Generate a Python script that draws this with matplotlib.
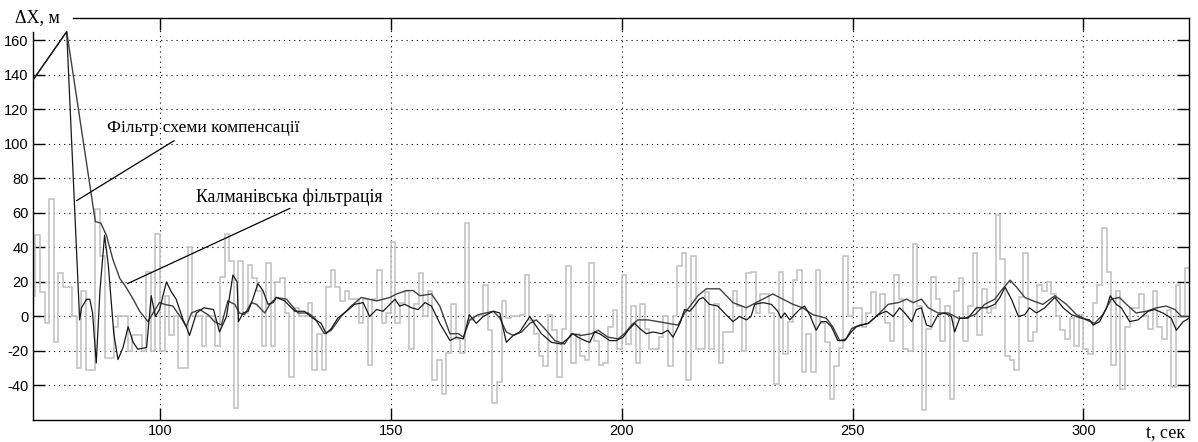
import matplotlib
matplotlib.use('Agg')
import matplotlib.pyplot as plt
import numpy as np

plt.rcParams['axes.unicode_minus'] = False

# вимірювання (сірі сходинки), крок 1 с, початок t = 72 с
t_start = 72
meas = [
    12, 47, 14, -4, 68, -15, 25, 17, 17, 0,          # 72-81
    -30, 15, -31, -31, 62, 35, -24, -24, -6, 0,      # 82-91
    0, -20, -11, -11, -20, 26, -20, 48, -20, 12,     # 92-101
    -11, 0, -30, -30, 40, 0, 0, -17, 0, 0,           # 102-111
    -17, 23, 48, 32, -53, 32, 2, 30, 22, 15,         # 112-121
    -17, 31, -17, 20, 22, 2, -35, 5, 0, 0,           # 122-131
    8, -31, -10, -31, 17, 27, 17, 9, 15, 10,         # 132-141
    10, -4, 10, -28, 10, 27, -4, 2, 43, -4,          # 142-151
    8, 15, -19, 7, 25, 0, 15, -37, -25, -45,         # 152-161
    -21, 7, -13, -21, 54, -2, 0, 1, 18, -8,          # 162-171
    -50, -38, 9, -1, 0, 0, 1, 24, -2, -10,           # 172-181
    -23, -29, 1, -8, -35, -7, 29, -27, -10, -23,     # 182-191
    -25, 31, -14, -28, -27, -6, 4, -19, 24, -16,     # 192-201
    6, -27, 7, -7, -19, -19, -12, 0, -29, 0,         # 202-211
    29, 37, -37, 35, -19, -19, 14, -19, 7, -27,      # 212-221
    -9, -9, 15, 6, -20, 25, 26, 2, 13, 13,           # 222-231
    2, -39, 26, -22, -3, 21, 27, -32, -10, -32,      # 232-241
    27, -4, -15, -48, -29, -18, 35, 0, 5, 5,         # 242-251
    -6, 2, 14, 1, 13, -4, -14, 24, 10, -19,          # 252-261
    -20, 42, 6, -54, -7, 23, 10, -14, 6, -48,        # 262-271
    15, 22, -14, 6, 37, -11, 16, 2, 5, 59,           # 272-281
    33, -23, -25, -31, 11, 37, -14, -9, 18, 15,      # 282-291
    20, 13, 0, -8, -13, -1, -17, 1, -19, -22,        # 292-301
    8, 18, 51, 26, -28, 15, -42, -6, 5, 5,           # 302-311
    13, 0, -7, 15, -6, -13, 4, -41, 18, 0,           # 312-321
    28,                                              # 322
]

# фільтр схеми компенсації
t_comp = [72.5, 79.8, 82.6, 83.0, 84.1, 84.8, 85.4, 86.2, 87.0, 88.0, 88.8, 90.0,
          90.9, 92.0, 93.1, 94.2, 95.2, 97.1, 98.1, 99.0, 99.9, 101.4, 102.5, 103.5,
          105.0, 105.7, 106.4, 107.9, 109.5, 111.6, 112.9, 114.4, 115.8, 116.7, 117.0,
          118.0, 119.1, 120.1, 121.2, 122.3, 123.4, 124.5, 125.2, 127.0, 129.2, 131.3,
          133.1, 134.9, 136.0, 137.1, 138.5, 140.4, 142.1, 144.0,
          145.4, 146.9, 148.3, 149.8, 150.9, 151.9, 153.0, 154.5, 155.9, 157.4, 158.8,
          160.6, 162.8, 164.2, 165.7, 167.0, 168.5, 170.0, 172.2, 173.6, 175.0, 176.5,
          177.9, 180.1,
          180.8, 182.6, 184.8, 186.9, 188.7, 189.4, 190.5, 192.0, 193.1, 194.1, 195.2,
          197.4, 198.8, 200.3, 201.4, 202.8, 203.9, 205.3, 206.8, 208.6, 210.0, 211.1,
          212.6, 213.6, 214.7, 215.4,
          216.8, 217.6, 219.0, 220.8, 222.6, 224.1, 225.5, 227.0, 228.0, 228.8, 230.6,
          232.4, 233.8, 234.5, 235.3, 236.4, 237.4, 238.5, 239.6, 240.7, 242.1, 243.2,
          244.3, 245.4, 246.8, 248.3, 249.7, 250.8,
          253.4, 255.5, 257.3, 258.8, 260.2, 261.3, 262.8, 263.8, 264.9, 266.0, 267.1,
          268.5, 269.9, 271.4, 272.1, 273.2, 275.0, 276.8, 279.0, 280.8, 281.9, 283.0,
          284.4, 285.9, 287.3,
          288.3, 289.8, 291.6, 293.8, 295.6, 297.4, 299.5, 301.3, 302.1, 303.5, 305.0,
          305.8, 307.1, 308.2, 310.0, 311.8, 314.0, 315.4, 317.2, 319.0, 320.1, 321.6,
          322.9]
x_comp = [137, 165, -2, 5, 10, 10, 2, -27, 15, 47, 30, -10,
          -25, -18, -6, -15, -19, -18, 12, 0, 4, 20, 14, 10,
          -2, -6, -11, 2, 5, 4, -9, 0, 24, 20, -3,
          2, 3, 10, 19, 15, 7, 8, 11, 9, 3, 3,
          -1, -4, -10, -7, -1, 3, 7, 8,
          0, 4, 3, 7, 10, 6, 7, 5, 4, 8, 6,
          -4, -14, -12, -13, 1, -4, 0, 3, 2, -15, -11,
          -9, 0,
          -3, -10, -15, -16, -12, -10, -12, -14, -15, -9, -10,
          -14, -14, -12, -8, -4, -7, -10, -9, -10, -8, -12,
          -4, 4, 3, 5,
          10, 11, 7, 6, 1, -3, 0, -2, 0, 7, 8,
          7, 3, -1, 2, -2, 1, 4, 6, 1, -8, -3,
          -3, -6, -14, -14, -9, -6,
          -4, 1, 3, 0, 5, 2, -3, 4, 5, -5, -6,
          1, 2, 0, -9, -1, -1, 5, 5, 7, 11, 17,
          10, 0, 1,
          5, 2, 5, 11, 5, 1, -1, -2, -5, -3, 5,
          12, 7, 5, -3, -2, 3, 4, 2, -1, -8, -3,
          -1]

# калманівська фільтрація
t_kal = [72.5, 79.8, 86.0, 87.2, 88.4, 89.8, 91.3, 92.4, 94.2, 95.6, 97.4, 98.5,
         99.9, 101.0, 102.8, 104.6, 105.7, 106.8, 108.6,
         110.4, 111.8, 113.3, 114.7, 116.2, 117.2, 118.3, 119.8, 120.9, 122.7, 123.8,
         125.2, 127.4, 129.9, 132.1, 133.5, 135.6, 137.1, 139.2, 141.4, 143.6,
         146.9, 149.8, 151.2, 153.4, 154.8, 156.3, 158.8, 160.6, 162.8, 164.6, 165.7,
         167.1, 168.9, 172.2, 173.6, 175.0, 176.5, 178.3, 180.1,
         181.5, 183.3, 185.5, 187.6, 189.1, 191.3, 193.4, 194.9, 197.0, 199.2, 200.6,
         202.1, 203.5, 205.7, 207.9, 210.0, 212.2, 213.6, 215.1,
         216.5, 218.3, 221.2, 224.1, 227.0, 229.8, 232.7, 234.9, 237.1, 239.2, 241.4,
         244.3, 245.7, 247.2, 248.6, 249.8, 251.5,
         253.4, 255.5, 257.7, 259.9, 261.7, 263.1, 264.9, 266.4, 268.5, 270.7, 272.9,
         274.3, 276.5, 278.6, 280.8, 282.2, 284.1, 285.5, 287.3,
         289.1, 291.2, 293.8, 296.3, 298.5, 300.6, 302.4, 304.2, 306.0, 307.8, 309.3,
         311.4, 313.6, 315.8, 317.9, 319.8, 321.2, 322.9]
x_kal = [137, 165, 55, 54, 47, 33, 22, 18, 10, 3, -3, 2,
         8, 7, 6, -1, -6, 2, 4,
         1, -3, -5, 9, 7, 2, 1, 8, 7, 2, 7,
         11, 10, 2, 2, -1, -10, -8, 0, 6, 11,
         9, 11, 13, 15, 15, 12, 13, 6, -10, -10, -12,
         -2, 1, 3, -1, -9, -11, -9, -4,
         -2, -7, -14, -16, -10, -11, -10, -8, -12, -13, -10,
         -5, -2, -2, -3, -4, -5, 2, 7,
         12, 16, 16, 8, 5, 9, 13, 10, 7, 5, 1,
         -1, -6, -14, -13, -7, -5,
         -4, 1, 7, 8, 10, 8, 10, 5, 2, 2, -1,
         -1, 1, 7, 10, 15, 21, 17, 11,
         9, 7, 12, 7, 1, -2, -4, 1, 10, 11, 7,
         2, 3, 5, 6, 4, 0, 0]

xticks = [100, 150, 200, 250, 300]
yticks = [-40, -20, 0, 20, 40, 60, 80, 100, 120, 140, 160]

label_comp = 'Фільтр схеми компенсації'
label_kal = 'Калманівська фільтрація'

fig = plt.figure(figsize=(11.98, 4.42), dpi=100)
ax = fig.add_axes([33 / 1198, 22 / 442, 1156 / 1198, 402 / 442])

edges = np.arange(t_start, t_start + len(meas) + 1)
ax.stairs(meas, edges, baseline=None, color='#c4c4c4', lw=1.2, zorder=2)
ax.plot(t_kal, x_kal, color='#404040', lw=1.0, zorder=3)
ax.plot(t_comp, x_comp, color='#181818', lw=0.9, zorder=4)

ax.set_xlim(72.5, 322.85)
ax.set_ylim(-60, 172.9)
ax.set_xticks(xticks)
ax.set_yticks(yticks)
ax.grid(True, color='black', linestyle=(0, (1, 3.6)), lw=0.8)
ax.set_axisbelow(True)
ax.tick_params(direction='in', length=8.6, width=1, top=True, right=True,
               labelsize=10.5, pad=3)
for lab in ax.get_xticklabels() + ax.get_yticklabels():
    lab.set_family('Liberation Sans')
for s in ax.spines.values():
    s.set_linewidth(1.0)
ax.spines['left'].set_bounds(-60, 165)
ax.spines['top'].set_bounds(81.1, 322.85)

serif = 'Liberation Serif'
ax.text(88.5, 109.2, label_comp, family=serif, fontsize=12.6, va='center')
ax.text(107.8, 69.3, label_kal, family=serif, fontsize=12.8, va='center')
ax.annotate('', xy=(81.4, 66.2), xytext=(103.6, 102.7),
            arrowprops=dict(arrowstyle='-', color='black', lw=0.9))
ax.annotate('', xy=(92.4, 18.3), xytext=(128.7, 63.3),
            arrowprops=dict(arrowstyle='-', color='black', lw=0.9))

fig.text(15 / 1198, 1 - 18 / 442, 'ΔX, м', family=serif, fontsize=13, va='center')
fig.text(1185 / 1198, 1 - 433 / 442, 't, сек', family=serif, fontsize=13,
         va='center', ha='right')

fig.savefig('out.png', dpi=100)
